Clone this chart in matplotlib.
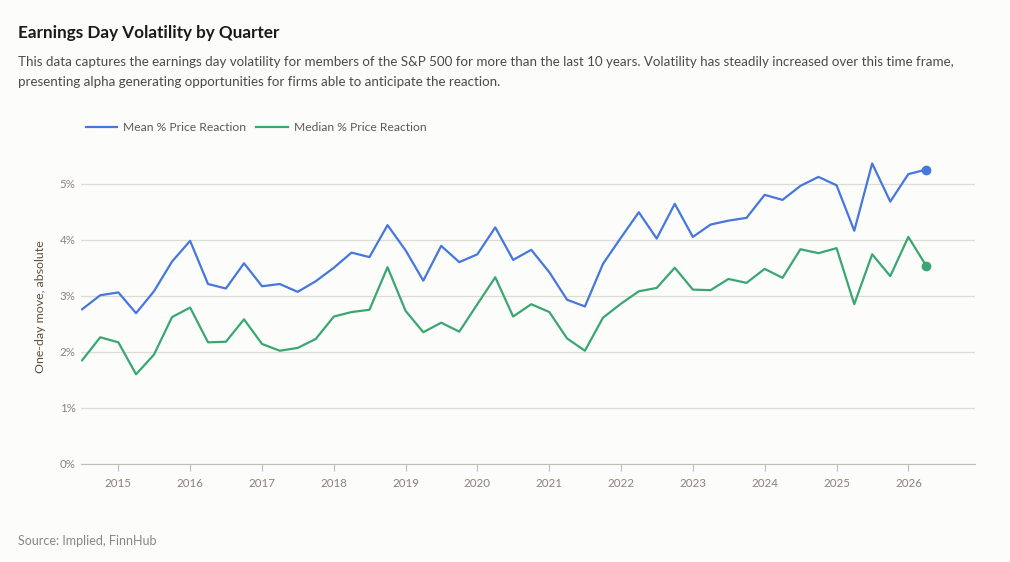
import pandas as pd
import matplotlib.pyplot as plt
import matplotlib.dates as mdates
from matplotlib.ticker import FuncFormatter

plt.rcParams['font.family'] = ['Lato', 'DejaVu Sans']

# quarterly observations, % absolute one-day move
quarters = pd.date_range('2014-07-01', periods=48, freq='QS')
mean_move = [2.76, 3.01, 3.06, 2.69, 3.08, 3.61, 3.98, 3.21, 3.13, 3.58, 3.17, 3.21,
             3.07, 3.26, 3.50, 3.77, 3.69, 4.26, 3.81, 3.27, 3.89, 3.60, 3.74, 4.22,
             3.64, 3.82, 3.42, 2.93, 2.81, 3.57, 4.04, 4.49, 4.02, 4.64, 4.05, 4.27,
             4.34, 4.39, 4.80, 4.71, 4.96, 5.12, 4.97, 4.16, 5.36, 4.68, 5.17, 5.25]
median_move = [1.85, 2.26, 2.17, 1.60, 1.95, 2.62, 2.79, 2.17, 2.18, 2.58, 2.14, 2.02,
               2.07, 2.23, 2.63, 2.71, 2.75, 3.51, 2.73, 2.35, 2.52, 2.36, 2.85, 3.33,
               2.63, 2.85, 2.71, 2.24, 2.02, 2.61, 2.86, 3.08, 3.14, 3.50, 3.11, 3.10,
               3.30, 3.23, 3.48, 3.32, 3.83, 3.76, 3.85, 2.85, 3.74, 3.35, 4.05, 3.54]
yticks = [0, 1, 2, 3, 4, 5]

blue = '#4677dc'
green = '#3aa772'
bg = '#fcfcfb'

fig = plt.figure(figsize=(10.1, 5.62), dpi=100, facecolor=bg)
ax = fig.add_axes([81 / 1010, 1 - 464 / 562, 894 / 1010, 314 / 562])
ax.set_facecolor(bg)

ax.plot(quarters, mean_move, color=blue, linewidth=1.6, label='Mean % Price Reaction')
ax.plot(quarters, median_move, color=green, linewidth=1.6, label='Median % Price Reaction')
ax.plot(quarters[-1:], mean_move[-1:], 'o', color=blue, markersize=6)
ax.plot(quarters[-1:], median_move[-1:], 'o', color=green, markersize=6)

ax.set_ylim(0, 5.6)
ax.set_yticks(yticks)
ax.yaxis.set_major_formatter(FuncFormatter(lambda v, p: f'{v:.0f}%'))
ax.set_xlim(pd.Timestamp('2014-06-25'), pd.Timestamp('2026-12-06'))
ax.xaxis.set_major_locator(mdates.YearLocator())
ax.xaxis.set_major_formatter(mdates.DateFormatter('%Y'))

ax.grid(axis='y', color='#dddcd3', linewidth=0.9)
ax.set_axisbelow(True)
for s in ['top', 'right', 'left']:
    ax.spines[s].set_visible(False)
ax.spines['bottom'].set_color('#bfbfb5')
ax.tick_params(axis='y', length=0, pad=4, labelsize=8.3, labelcolor='#8c8278')
ax.tick_params(axis='x', length=5, color='#bfbfb5', pad=5, labelsize=8.3, labelcolor='#8c8278')

ax.set_ylabel('One-day move, absolute', fontsize=8.9, color='#5e4e40', labelpad=10)

leg = fig.legend(loc='upper left', bbox_to_anchor=(86 / 1010, 1 - 122 / 562), ncol=2,
                 frameon=False, fontsize=8.7, handlelength=2.6, handletextpad=0.5,
                 columnspacing=0.8, borderaxespad=0, borderpad=0)
for t in leg.get_texts():
    t.set_color('#5a5a5a')

fig.text(18 / 1010, 1 - 38 / 562, 'Earnings Day Volatility by Quarter',
         fontsize=12.3, fontweight='bold', color='#1a1a1a', va='baseline')
fig.text(18 / 1010, 1 - 66 / 562,
         'This data captures the earnings day volatility for members of the S&P 500 for more than the last 10 years. '
         'Volatility has steadily increased over this time frame,',
         fontsize=9.6, color='#4a4a4a', va='baseline')
fig.text(18 / 1010, 1 - 86 / 562,
         'presenting alpha generating opportunities for firms able to anticipate the reaction.',
         fontsize=9.6, color='#4a4a4a', va='baseline')
fig.text(18 / 1010, 1 - 545 / 562, 'Source: Implied, FinnHub',
         fontsize=9, color='#8a8580', va='baseline')

fig.savefig('out.png', dpi=100, facecolor=bg)
